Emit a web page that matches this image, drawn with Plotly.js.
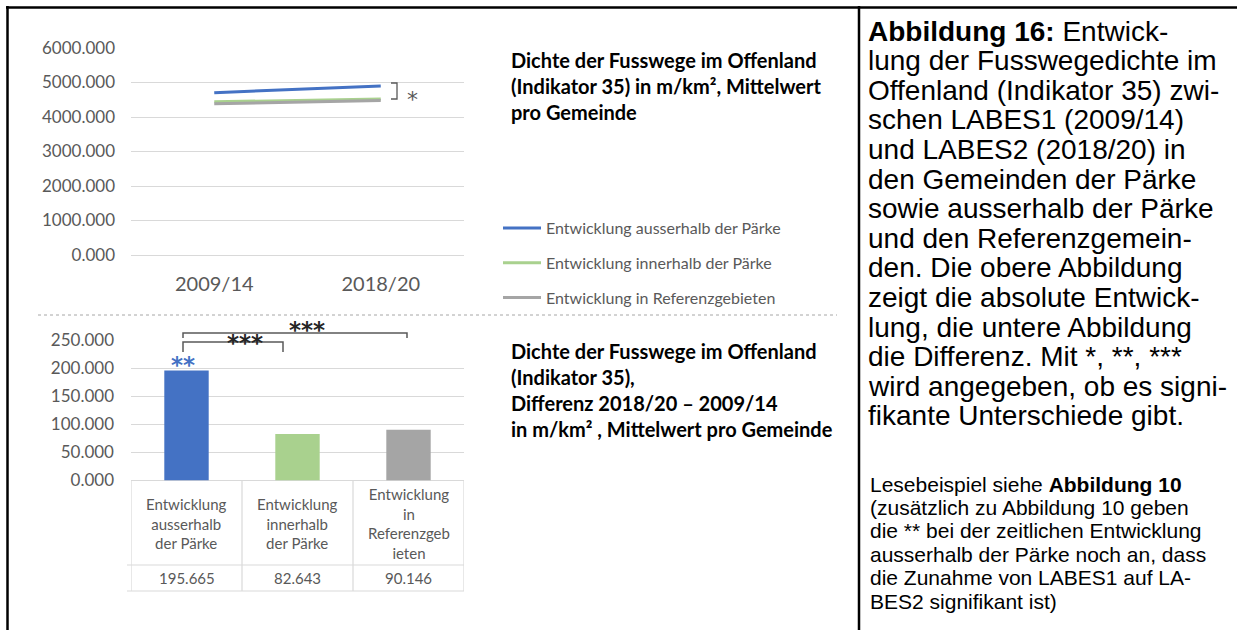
<!DOCTYPE html>
<html><head><meta charset="utf-8">
<script src="https://cdn.plot.ly/plotly-3.0.1.min.js"></script>
<style>html,body{margin:0;padding:0;background:#fff;} #chart{width:1237px;height:630px;}</style>
</head><body><div id="chart"></div><script>
// ---------- data ----------
const periods = ['2009/14', '2018/20'];
const seriesNames = ['Entwicklung ausserhalb der Pärke', 'Entwicklung innerhalb der Pärke', 'Entwicklung in Referenzgebieten'];
const outsideParks = [4705, 4900.7];
const insideParks = [4440, 4522.6];
const referenceAreas = [4385, 4475.1];
const diffCategories = ['Entwicklung<br>ausserhalb<br>der Pärke', 'Entwicklung<br>innerhalb<br>der Pärke', 'Entwicklung<br>in<br>Referenzgeb<br>ieten'];
const diffValues = [195.665, 82.643, 90.146];
const diffLabels = ['195.665', '82.643', '90.146'];
const topTitle = 'Dichte der Fusswege im Offenland<br>(Indikator 35) in m/km², Mittelwert<br>pro Gemeinde';
const bottomTitle = 'Dichte der Fusswege im Offenland<br>(Indikator 35),<br>Differenz 2018/20 – 2009/14<br>in m/km² , Mittelwert pro Gemeinde';
const captionLines = [
  '<b>Abbildung 16:</b> Entwick-',
  'lung der Fusswegedichte im',
  'Offenland (Indikator 35) zwi-',
  'schen LABES1 (2009/14)',
  'und LABES2 (2018/20) in',
  'den Gemeinden der Pärke',
  'sowie ausserhalb der Pärke',
  'und den Referenzgemein-',
  'den. Die obere Abbildung',
  'zeigt die absolute Entwick-',
  'lung, die untere Abbildung',
  'die Differenz. Mit *, **, ***',
  'wird angegeben, ob es signi-',
  'fikante Unterschiede gibt.'
];
const noteLines = [
  'Lesebeispiel siehe <b>Abbildung 10</b>',
  '(zusätzlich zu Abbildung 10 geben',
  'die ** bei der zeitlichen Entwicklung',
  'ausserhalb der Pärke noch an, dass',
  'die Zunahme von LABES1 auf LA-',
  'BES2 signifikant ist)'
];

// ---------- helpers (pixel -> paper) ----------
const W = 1237, H = 630;
const px = x => x / W;
const py = y => 1 - y / H;
const path = pts => pts.map((p, i) => (i ? 'L' : 'M') + px(p[0]).toFixed(5) + ',' + py(p[1]).toFixed(5)).join(' ');

const colors = ['#4472C4', '#A9D18E', '#A5A5A5'];
const FONT = 'Lato, "Open Sans", sans-serif';
const STAR = '"DejaVu Sans", sans-serif';
const GRAY = '#595959';

const lineSeries = [outsideParks, insideParks, referenceAreas];
const traces = lineSeries.map((vals, i) => ({
  type: 'scatter', mode: 'lines', x: periods, y: vals, name: seriesNames[i],
  line: {color: colors[i], width: 3}, xaxis: 'x', yaxis: 'y',
  legendgroup: 'g' + i, hoverinfo: 'skip'
}));
traces.push({
  type: 'bar', x: diffCategories, y: diffValues, xaxis: 'x2', yaxis: 'y2',
  marker: {color: colors}, showlegend: false, hoverinfo: 'skip'
});

const xDom = [px(131), px(464)];
const layout = {
  width: W, height: H, margin: {l: 0, r: 0, t: 0, b: 0},
  paper_bgcolor: '#fff', plot_bgcolor: 'rgba(0,0,0,0)',
  font: {family: FONT, color: GRAY},
  bargap: 0.6,
  xaxis: {domain: xDom, anchor: 'y', type: 'category', range: [-0.5, 1.5],
    showgrid: false, zeroline: false, showline: false, ticks: '',
    tickfont: {size: 20, color: GRAY, family: FONT}, ticklabelstandoff: 15},
  yaxis: {domain: [py(255), py(48)], anchor: 'x', range: [0, 6000], dtick: 1000, tickformat: '.3f',
    gridcolor: '#D9D9D9', gridwidth: 1, zeroline: true, zerolinecolor: '#D9D9D9', zerolinewidth: 1,
    showline: false, ticks: '', tickfont: {size: 17, color: GRAY, family: FONT}, ticklabelstandoff: 15},
  xaxis2: {domain: xDom, anchor: 'y2', type: 'category', range: [-0.5, 2.5],
    showgrid: false, zeroline: false, showline: false, ticks: '', showticklabels: false},
  yaxis2: {domain: [py(480.5), py(340)], anchor: 'x2', range: [0, 250], dtick: 50, tickformat: '.3f',
    gridcolor: '#D9D9D9', gridwidth: 1, zeroline: true, zerolinecolor: '#D9D9D9', zerolinewidth: 1,
    showline: false, ticks: '', tickfont: {size: 17, color: GRAY, family: FONT}, ticklabelstandoff: 16},
  showlegend: true,
  legend: {x: px(498), y: py(211), xanchor: 'left', yanchor: 'top', traceorder: 'grouped',
    tracegroupgap: 11, font: {size: 16, color: GRAY, family: FONT}, bgcolor: 'rgba(0,0,0,0)', itemwidth: 38},
  shapes: [],
  annotations: []
};

const S = layout.shapes, A = layout.annotations;
// outer frame and divider
S.push({type: 'line', xref: 'paper', yref: 'paper', x0: px(6), x1: 1, y0: py(7.5), y1: py(7.5), line: {color: '#000', width: 2.5}});
S.push({type: 'line', xref: 'paper', yref: 'paper', x0: px(7.5), x1: px(7.5), y0: py(6), y1: 0, line: {color: '#000', width: 2.5}});
S.push({type: 'line', xref: 'paper', yref: 'paper', x0: px(859), x1: px(859), y0: py(6), y1: 0, line: {color: '#000', width: 2.5}});
// dashed separator
S.push({type: 'line', xref: 'paper', yref: 'paper', x0: px(38), x1: px(837), y0: py(315), y1: py(315), line: {color: '#A6A6A6', width: 1, dash: 'dot'}});
// top significance bracket
S.push({type: 'path', xref: 'paper', yref: 'paper', path: path([[391, 83], [397, 83], [397, 99], [391, 99]]), line: {color: GRAY, width: 1.3}});
// bottom brackets
S.push({type: 'path', xref: 'paper', yref: 'paper', path: path([[183, 338], [183, 333], [407, 333], [407, 338]]), line: {color: GRAY, width: 1.5}});
S.push({type: 'path', xref: 'paper', yref: 'paper', path: path([[183, 352], [183, 342], [283, 342], [283, 352]]), line: {color: GRAY, width: 1.5}});
// table lines
const TL = '#D9D9D9';
[-0.5, 0.5, 1.5, 2.5].forEach(v => S.push({type: 'line', xref: 'x2', yref: 'paper', x0: v, x1: v, y0: py(481), y1: py(591), line: {color: TL, width: 1.2}}));
[565, 591].forEach(y => S.push({type: 'line', xref: 'paper', yref: 'paper', x0: px(127), x1: px(464), y0: py(y), y1: py(y), line: {color: TL, width: 1.2}}));

// titles
A.push({xref: 'paper', yref: 'paper', x: px(509), y: py(46), xanchor: 'left', yanchor: 'top', align: 'left', showarrow: false,
  text: '<b>' + topTitle + '</b>', font: {size: 20, color: '#000', family: FONT}});
A.push({xref: 'paper', yref: 'paper', x: px(509), y: py(337), xanchor: 'left', yanchor: 'top', align: 'left', showarrow: false,
  text: '<b>' + bottomTitle + '</b>', font: {size: 20, color: '#000', family: FONT}});
// significance marks
const star = (x, y, t, size, color) => A.push({xref: 'paper', yref: 'paper', x: px(x), y: py(y), xanchor: 'center', yanchor: 'middle',
  showarrow: false, text: t, font: {size: size, color: color, family: STAR}});
star(412, 99, '*', 22, GRAY);
star(307, 330, '<b>***</b>', 23, '#262626');
star(245, 343, '<b>***</b>', 23, '#262626');
star(183, 365, '<b>**</b>', 23, colors[0]);
// table text
diffCategories.forEach((c, i) => {
  A.push({xref: 'x2', yref: 'paper', x: c, y: py(523), xanchor: 'center', yanchor: 'middle', showarrow: false, text: c, align: 'center', font: {size: 15, color: GRAY, family: FONT}});
  A.push({xref: 'x2', yref: 'paper', x: c, y: py(578), xanchor: 'center', yanchor: 'middle', showarrow: false, text: diffLabels[i], font: {size: 15, color: GRAY, family: FONT}});
});
// caption
const CAP = '"Liberation Sans", Arial, sans-serif';
captionLines.forEach((t, i) => A.push({xref: 'paper', yref: 'paper', x: px(866), y: py(31 + i * 29.6), xanchor: 'left', yanchor: 'middle', align: 'left', showarrow: false,
  text: t, font: {size: 28, color: '#000', family: CAP}}));
noteLines.forEach((t, i) => A.push({xref: 'paper', yref: 'paper', x: px(868), y: py(484 + i * 23.4), xanchor: 'left', yanchor: 'middle', align: 'left', showarrow: false,
  text: t, font: {size: 21, color: '#000', family: CAP}}));

Plotly.newPlot('chart', traces, layout, {staticPlot: true, displayModeBar: false});
</script></body></html>
